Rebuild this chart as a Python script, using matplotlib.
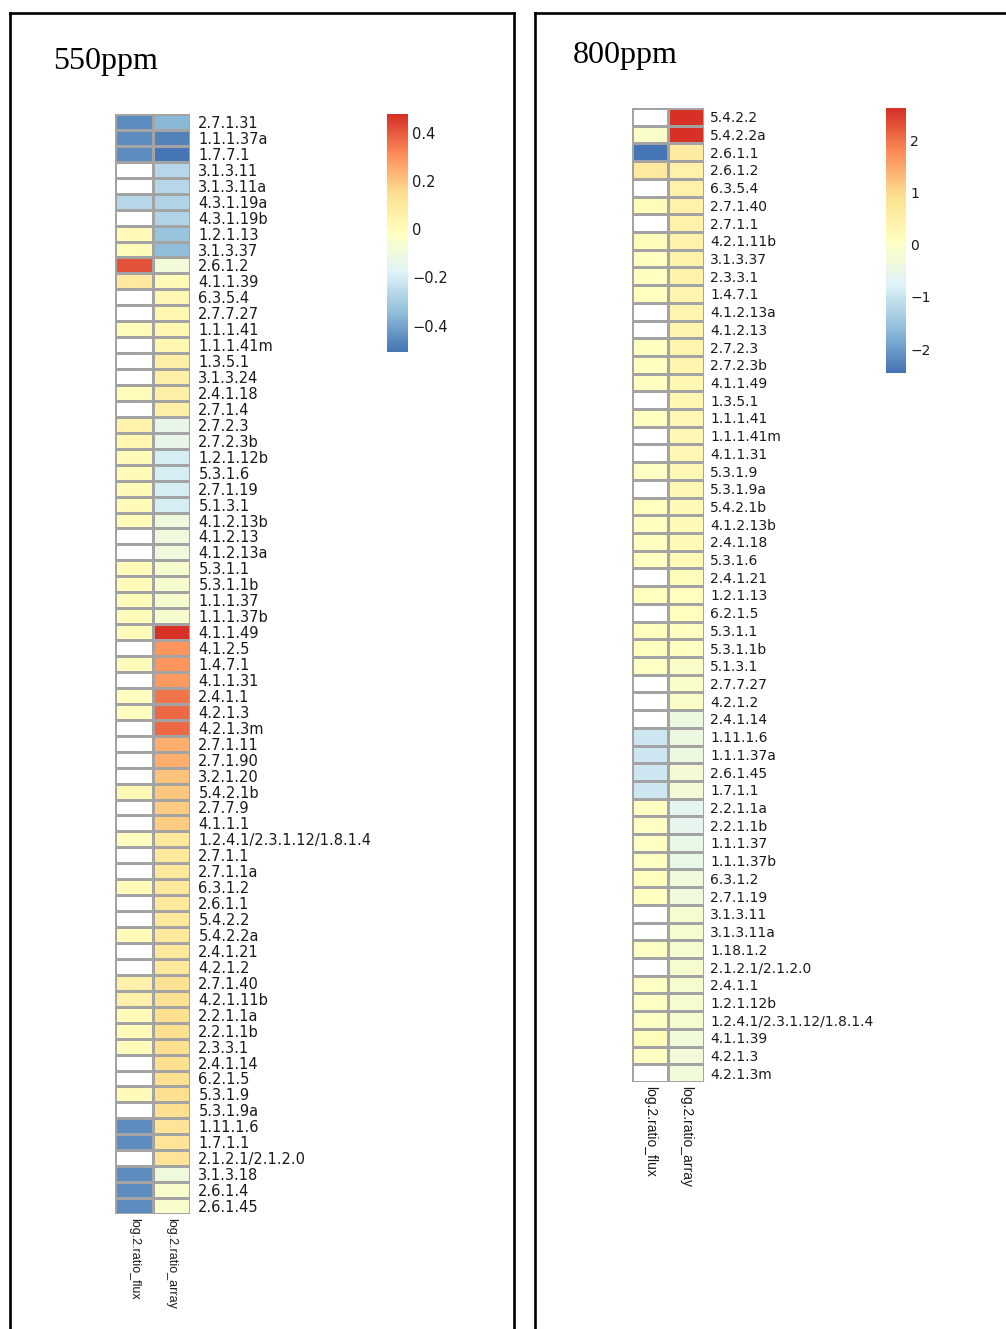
import numpy as np
import matplotlib
matplotlib.use('Agg')
import matplotlib.pyplot as plt
from matplotlib.colors import LinearSegmentedColormap
from matplotlib.lines import Line2D

W, H = 1006, 1329
nan = np.nan

# ---------------- data ----------------
left_labels = ["2.7.1.31", "1.1.1.37a", "1.7.7.1", "3.1.3.11", "3.1.3.11a", "4.3.1.19a",
               "4.3.1.19b", "1.2.1.13", "3.1.3.37", "2.6.1.2", "4.1.1.39", "6.3.5.4",
               "2.7.7.27", "1.1.1.41", "1.1.1.41m", "1.3.5.1", "3.1.3.24", "2.4.1.18",
               "2.7.1.4", "2.7.2.3", "2.7.2.3b", "1.2.1.12b", "5.3.1.6", "2.7.1.19",
               "5.1.3.1", "4.1.2.13b", "4.1.2.13", "4.1.2.13a", "5.3.1.1", "5.3.1.1b",
               "1.1.1.37", "1.1.1.37b", "4.1.1.49", "4.1.2.5", "1.4.7.1", "4.1.1.31",
               "2.4.1.1", "4.2.1.3", "4.2.1.3m", "2.7.1.11", "2.7.1.90", "3.2.1.20",
               "5.4.2.1b", "2.7.7.9", "4.1.1.1", "1.2.4.1/2.3.1.12/1.8.1.4", "2.7.1.1",
               "2.7.1.1a", "6.3.1.2", "2.6.1.1", "5.4.2.2", "5.4.2.2a", "2.4.1.21",
               "4.2.1.2", "2.7.1.40", "4.2.1.11b", "2.2.1.1a", "2.2.1.1b", "2.3.3.1",
               "2.4.1.14", "6.2.1.5", "5.3.1.9", "5.3.1.9a", "1.11.1.6", "1.7.1.1",
               "2.1.2.1/2.1.2.0", "3.1.3.18", "2.6.1.4", "2.6.1.45"]
left_flux = [-0.46, -0.46, -0.46, nan, nan, -0.27, nan, 0.01, 0.0, 0.42, 0.10, nan,
             nan, 0.0, nan, nan, nan, 0.0, nan, 0.05, 0.03, 0.01, 0.01, 0.01,
             0.01, 0.01, nan, nan, 0.01, 0.01, 0.0, 0.0, 0.0, nan, 0.0, nan,
             -0.01, -0.01, nan, nan, nan, nan, 0.02, nan, nan, -0.01, nan,
             nan, 0.01, nan, nan, 0.01, nan, nan, 0.06, 0.06, 0.01, 0.01, 0.0,
             nan, nan, 0.01, nan, -0.46, -0.46, nan, -0.46, -0.46, -0.46]
left_array = [-0.36, -0.48, -0.51, -0.27, -0.27, -0.28, -0.28, -0.33, -0.35, -0.09, 0.01, 0.02,
              0.03, 0.03, 0.03, 0.07, 0.07, 0.07, 0.07, -0.14, -0.14, -0.20, -0.20, -0.20,
              -0.20, -0.10, -0.10, -0.10, -0.06, -0.06, -0.06, -0.06, 0.48, 0.30, 0.30, 0.29,
              0.36, 0.38, 0.38, 0.25, 0.25, 0.21, 0.20, 0.19, 0.19, 0.11, 0.11,
              0.11, 0.11, 0.11, 0.11, 0.11, 0.11, 0.11, 0.14, 0.14, 0.15, 0.15, 0.15,
              0.15, 0.15, 0.15, 0.15, 0.13, 0.13, 0.13, -0.10, -0.05, -0.05]

right_labels = ["5.4.2.2", "5.4.2.2a", "2.6.1.1", "2.6.1.2", "6.3.5.4", "2.7.1.40", "2.7.1.1",
                "4.2.1.11b", "3.1.3.37", "2.3.3.1", "1.4.7.1", "4.1.2.13a", "4.1.2.13",
                "2.7.2.3", "2.7.2.3b", "4.1.1.49", "1.3.5.1", "1.1.1.41", "1.1.1.41m",
                "4.1.1.31", "5.3.1.9", "5.3.1.9a", "5.4.2.1b", "4.1.2.13b", "2.4.1.18",
                "5.3.1.6", "2.4.1.21", "1.2.1.13", "6.2.1.5", "5.3.1.1", "5.3.1.1b",
                "5.1.3.1", "2.7.7.27", "4.2.1.2", "2.4.1.14", "1.11.1.6", "1.1.1.37a",
                "2.6.1.45", "1.7.1.1", "2.2.1.1a", "2.2.1.1b", "1.1.1.37", "1.1.1.37b",
                "6.3.1.2", "2.7.1.19", "3.1.3.11", "3.1.3.11a", "1.18.1.2",
                "2.1.2.1/2.1.2.0", "2.4.1.1", "1.2.1.12b", "1.2.4.1/2.3.1.12/1.8.1.4",
                "4.1.1.39", "4.2.1.3", "4.2.1.3m"]
right_flux = [nan, -0.05, -2.46, 0.65, nan, 0.18, nan, 0.18, 0.05, 0.08, 0.12, nan, nan,
              0.08, 0.08, 0.04, nan, 0.04, nan, nan, 0.0, nan, 0.10, 0.04, 0.04,
              0.04, nan, 0.12, nan, 0.12, 0.12, 0.02, nan, nan, nan, -0.95, -0.95,
              -0.95, -0.95, 0.02, 0.02, 0.02, 0.02, 0.12, 0.08, nan, nan, 0.02,
              nan, 0.02, 0.02, 0.02, 0.14, 0.02, nan]
right_array = [2.63, 2.60, 0.62, 0.46, 0.46, 0.46, 0.46, 0.43, 0.40, 0.40, 0.36, 0.36, 0.36,
               0.34, 0.34, 0.30, 0.30, 0.28, 0.28, 0.26, 0.26, 0.26, 0.20, 0.20, 0.20,
               0.20, 0.16, 0.10, 0.10, 0.04, 0.04, -0.02, -0.06, -0.06, -0.42, -0.42, -0.42,
               -0.25, -0.25, -0.58, -0.58, -0.48, -0.48, -0.35, -0.35, -0.15, -0.15, -0.15,
               -0.15, -0.15, -0.15, -0.15, -0.30, -0.30, -0.30]

col_labels = ["log.2.ratio_flux", "log.2.ratio_array"]
left_ticks = [-0.4, -0.2, 0, 0.2, 0.4]
right_ticks = [-2, -1, 0, 1, 2]
titles = ["550ppm", "800ppm"]

# ---------------- style ----------------
cmap = LinearSegmentedColormap.from_list(
    'rdylbu', ['#4575B4', '#91BFDB', '#E0F3F8', '#FFFFBF', '#FEE090', '#FC8D59', '#D73027'], N=100)
cmap.set_bad('white')

fig = plt.figure(figsize=(W / 100, H / 100), dpi=100)


def box(x0, y0, x1, y1):
    return [x0 / W, 1 - y1 / H, (x1 - x0) / W, (y1 - y0) / H]


def fmt(t):
    return f"{t:g}".replace('-', '\u2212')


def heat(hbox, cbox, labels, flux, arr, ticks, fs, pad, colfs, cbfs):
    data = np.array([flux, arr], dtype=float).T
    vmin, vmax = np.nanmin(data), np.nanmax(data)
    ax = fig.add_axes(box(*hbox))
    m = ax.pcolormesh(np.arange(3), np.arange(len(labels) + 1), np.ma.masked_invalid(data),
                      cmap=cmap, vmin=vmin, vmax=vmax, edgecolors='#a3a3a3', linewidth=0.9)
    ax.set_xlim(0, 2)
    ax.set_ylim(len(labels), 0)
    ax.yaxis.tick_right()
    ax.set_yticks(np.arange(len(labels)) + 0.5)
    ax.set_yticklabels(labels, fontsize=fs, family='DejaVu Sans', color='#1a1a1a')
    ax.set_xticks([0.5, 1.5])
    ax.set_xticklabels(col_labels, rotation=270, fontsize=colfs, family='Liberation Sans',
                       va='top', ha='center', color='#1a1a1a')
    ax.tick_params(axis='y', length=0, pad=pad)
    ax.tick_params(axis='x', length=0, pad=3)
    for s in ax.spines.values():
        s.set_visible(False)

    cax = fig.add_axes(box(*cbox))
    cb = fig.colorbar(m, cax=cax, ticks=ticks)
    cb.outline.set_visible(False)
    cb.ax.set_yticklabels([fmt(t) for t in ticks], fontsize=cbfs, family='DejaVu Sans',
                          color='#1a1a1a')
    cax.tick_params(length=0, pad=3)


heat((115, 114, 190, 1214), (387, 114, 408, 352), left_labels, left_flux, left_array,
     left_ticks, 10.5, 6, 9, 10.5)
heat((632, 108, 704, 1082), (886, 108, 906, 373), right_labels, right_flux, right_array,
     right_ticks, 10, 4.5, 10, 10)

# titles
fig.text(53 / W, 1 - 69 / H, titles[0], family='Liberation Serif', fontsize=23, va='baseline')
fig.text(573 / W, 1 - 63 / H, titles[1], family='Liberation Serif', fontsize=23, va='baseline')

# panel frames
lw = 1.9
def fl(xs, ys):
    fig.add_artist(Line2D([x / W for x in xs], [1 - y / H for y in ys], color='black',
                          linewidth=lw, solid_capstyle='projecting'))

fl([10, 514], [13, 13])
fl([10, 10], [13, 1340])
fl([514, 514], [13, 1340])
fl([535, 1010], [13, 13])
fl([535, 535], [13, 1340])

fig.savefig('out.png', dpi=100)
